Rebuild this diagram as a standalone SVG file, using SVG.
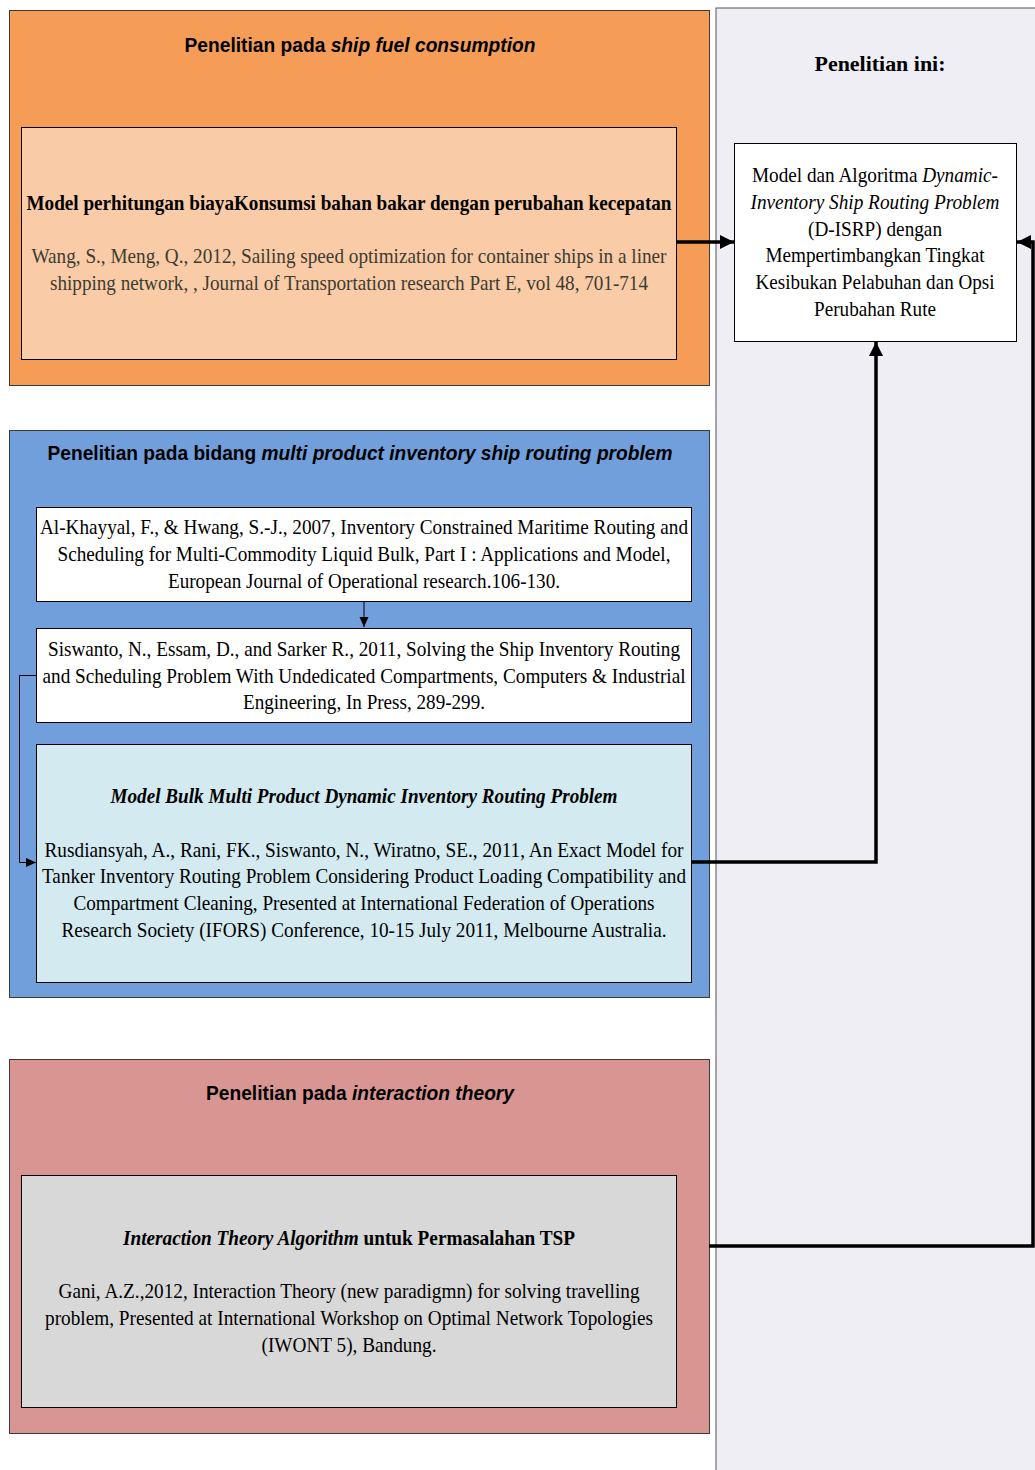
<svg xmlns="http://www.w3.org/2000/svg" width="1035" height="1470" viewBox="0 0 1035 1470">
<defs>
<style>
.hdr{font-family:"Liberation Sans Narrow","Liberation Sans",Arial,sans-serif;font-weight:bold;font-size:20px;fill:#000;text-anchor:middle}
.body{font-family:"Liberation Serif","Times New Roman",serif;font-size:21px;fill:#000;text-anchor:middle}
.bold{font-weight:bold}
.it{font-style:italic}
.panel{stroke:#3a3a3a;stroke-width:1}
.box{stroke:#000;stroke-width:1}
.thick{fill:none;stroke:#000;stroke-width:3.5}
.thin{fill:none;stroke:#000;stroke-width:1}
</style>
<marker id="big" markerUnits="userSpaceOnUse" markerWidth="16" markerHeight="16" refX="14" refY="8" orient="auto">
<path d="M0,1 L14,8 L0,15 Z" fill="#000"/>
</marker>
<marker id="small" markerUnits="userSpaceOnUse" markerWidth="12" markerHeight="12" refX="10" refY="6" orient="auto">
<path d="M0,1.5 L10,6 L0,10.5 Z" fill="#000"/>
</marker>
</defs>
<rect width="1035" height="1470" fill="#fff"/>

<g id="panel-right">
<rect x="716" y="8" width="330" height="1475" fill="#efeef4" stroke="#555" stroke-width="1"/>
<text class="body bold" x="880" y="71" font-size="25" textLength="131" lengthAdjust="spacingAndGlyphs">Penelitian ini:</text>
</g>

<g id="node-target">
<rect class="box" x="734.5" y="143.5" width="282" height="198" fill="#fff"/>
<text class="body" x="875" y="182" textLength="246" lengthAdjust="spacingAndGlyphs">Model dan Algoritma <tspan class="it">Dynamic-</tspan></text>
<text class="body it" x="875" y="209" textLength="249" lengthAdjust="spacingAndGlyphs">Inventory Ship Routing Problem</text>
<text class="body" x="875" y="236" textLength="134" lengthAdjust="spacingAndGlyphs">(D-ISRP) dengan</text>
<text class="body" x="875" y="262" textLength="219" lengthAdjust="spacingAndGlyphs">Mempertimbangkan Tingkat</text>
<text class="body" x="875" y="289" textLength="239" lengthAdjust="spacingAndGlyphs">Kesibukan Pelabuhan dan Opsi</text>
<text class="body" x="875" y="316" textLength="122" lengthAdjust="spacingAndGlyphs">Perubahan Rute</text>
</g>

<g id="panel-fuel">
<rect class="panel" x="9.5" y="10.5" width="700" height="375" fill="#f59d57"/>
<text class="hdr" x="360" y="52" textLength="351" lengthAdjust="spacingAndGlyphs">Penelitian pada <tspan class="it">ship fuel consumption</tspan></text>
</g>
<g id="node-fuel">
<rect class="box" x="21.5" y="127.5" width="655" height="232" fill="#f9cba6"/>
<text class="body bold" x="349" y="210" textLength="645" lengthAdjust="spacingAndGlyphs">Model perhitungan biayaKonsumsi bahan bakar dengan perubahan kecepatan</text>
<text class="body" x="349" y="263" style="fill:#3c3c32" textLength="635" lengthAdjust="spacingAndGlyphs">Wang, S., Meng, Q., 2012, Sailing speed optimization for container ships in a liner</text>
<text class="body" x="349" y="290" style="fill:#3c3c32" textLength="598" lengthAdjust="spacingAndGlyphs">shipping network, , Journal of Transportation research Part E, vol 48, 701-714</text>
</g>

<g id="panel-routing">
<rect class="panel" x="9.5" y="430.5" width="700" height="567" fill="#719fdb"/>
<text class="hdr" x="360" y="460" textLength="625" lengthAdjust="spacingAndGlyphs">Penelitian pada bidang <tspan class="it">multi product inventory ship routing problem</tspan></text>
</g>
<g id="node-alkhayyal">
<rect class="box" x="36.5" y="507.5" width="655" height="94" fill="#fff"/>
<text class="body" x="364" y="534" textLength="648" lengthAdjust="spacingAndGlyphs">Al-Khayyal, F., &amp; Hwang, S.-J., 2007, Inventory Constrained Maritime Routing and</text>
<text class="body" x="364" y="561" textLength="613" lengthAdjust="spacingAndGlyphs">Scheduling for Multi-Commodity Liquid Bulk, Part I : Applications and Model,</text>
<text class="body" x="364" y="588" textLength="392" lengthAdjust="spacingAndGlyphs">European Journal of Operational research.106-130.</text>
</g>
<g id="node-siswanto">
<rect class="box" x="36.5" y="628.5" width="655" height="94" fill="#fff"/>
<text class="body" x="364" y="656" textLength="632" lengthAdjust="spacingAndGlyphs">Siswanto, N., Essam, D., and Sarker R., 2011, Solving the Ship Inventory Routing</text>
<text class="body" x="364" y="683" textLength="643" lengthAdjust="spacingAndGlyphs">and Scheduling Problem With Undedicated Compartments, Computers &amp; Industrial</text>
<text class="body" x="364" y="709" textLength="242" lengthAdjust="spacingAndGlyphs">Engineering, In Press, 289-299.</text>
</g>
<g id="node-rusdiansyah">
<rect class="box" x="36.5" y="744.5" width="655" height="238" fill="#d2eaf0"/>
<text class="body bold it" x="364" y="803" textLength="507" lengthAdjust="spacingAndGlyphs">Model Bulk Multi Product Dynamic Inventory Routing Problem</text>
<text class="body" x="364" y="857" textLength="639" lengthAdjust="spacingAndGlyphs">Rusdiansyah, A., Rani, FK., Siswanto, N., Wiratno, SE., 2011, An Exact Model for</text>
<text class="body" x="364" y="883" textLength="644" lengthAdjust="spacingAndGlyphs">Tanker Inventory Routing Problem Considering Product Loading Compatibility and</text>
<text class="body" x="364" y="910" textLength="581" lengthAdjust="spacingAndGlyphs">Compartment Cleaning, Presented at International Federation of Operations</text>
<text class="body" x="364" y="937" textLength="605" lengthAdjust="spacingAndGlyphs">Research Society (IFORS) Conference, 10-15 July 2011, Melbourne Australia.</text>
</g>

<g id="panel-interaction">
<rect class="panel" x="9.5" y="1059.5" width="700" height="374" fill="#d99592"/>
<text class="hdr" x="360" y="1100" textLength="308" lengthAdjust="spacingAndGlyphs">Penelitian pada <tspan class="it">interaction theory</tspan></text>
</g>
<g id="node-gani">
<rect class="box" x="21.5" y="1175.5" width="655" height="232" fill="#d8d8d8" stroke="#333"/>
<text class="body bold" x="349" y="1245" textLength="452" lengthAdjust="spacingAndGlyphs"><tspan class="it">Interaction Theory Algorithm</tspan> untuk Permasalahan TSP</text>
<text class="body" x="349" y="1298" textLength="581" lengthAdjust="spacingAndGlyphs">Gani, A.Z.,2012, Interaction Theory (new paradigmn) for solving travelling</text>
<text class="body" x="349" y="1325" textLength="608" lengthAdjust="spacingAndGlyphs">problem, Presented at International Workshop on Optimal Network Topologies</text>
<text class="body" x="349" y="1352" textLength="175" lengthAdjust="spacingAndGlyphs">(IWONT 5), Bandung.</text>
</g>

<g id="connectors">
<path class="thin" d="M364,602 V627" marker-end="url(#small)"/>
<path class="thin" d="M36,675.5 H19.5 V862.5 H36" marker-end="url(#small)"/>
<path class="thick" d="M676,242 H734" marker-end="url(#big)"/>
<path class="thick" d="M691,862 H876 V342" marker-end="url(#big)"/>
<path class="thick" d="M709,1246 H1033 V242 H1017" marker-end="url(#big)"/>
</g>
</svg>
